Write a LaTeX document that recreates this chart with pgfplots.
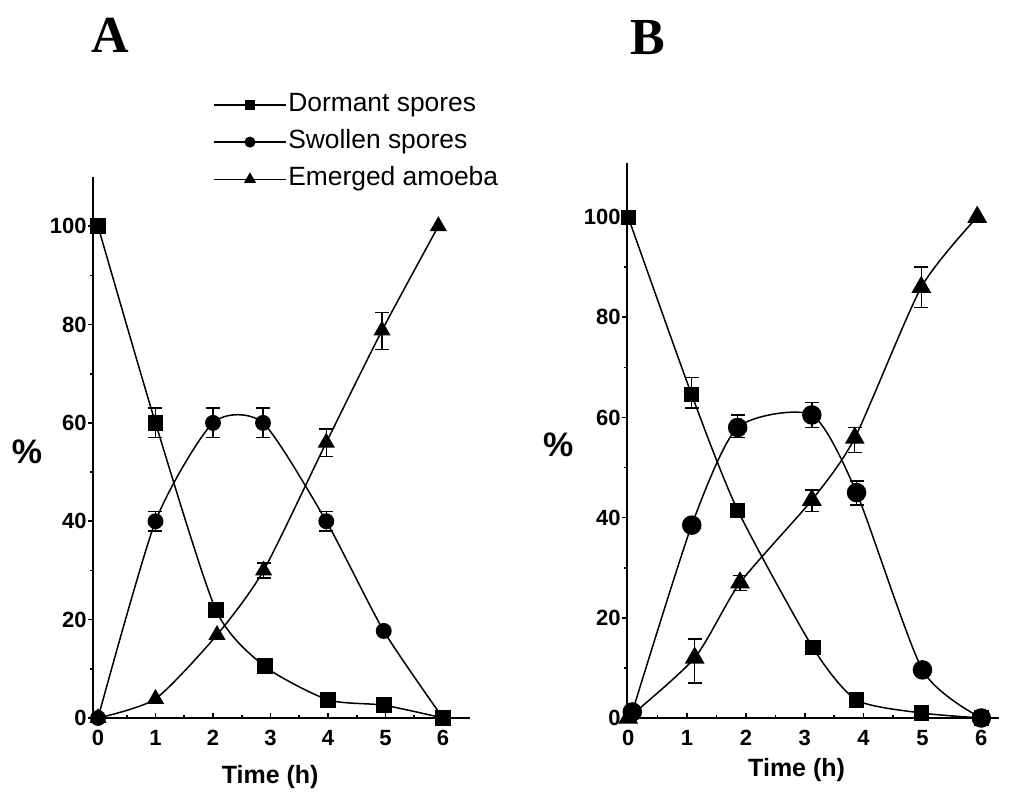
\documentclass[border=0pt]{standalone}
\usepackage{fontspec}
\setmainfont{Liberation Sans}
\newfontfamily\titlefont{Liberation Serif}
\usepackage{pgfplots}
\pgfplotsset{compat=1.18}

\pgfplotsset{
  panel/.style={
    scale only axis, anchor=south west,
    axis lines=left, axis line style={-, line width=1pt},
    ymin=0, ytick={0,20,...,100}, minor y tick num=1,
    xtick={0,...,6}, minor x tick num=1,
    xtick align=inside, ytick align=outside,
    major tick length=2.5pt, minor tick length=1.5pt,
    tick style={black, line width=0.8pt},
    /pgf/number format/assume math mode=true,
    tick label style={font=\bfseries\fontsize{11}{11}\selectfont},
    yticklabel style={inner sep=0.5pt},
    xticklabel style={yshift=-2.5pt},
    clip=false,
    ylabel={\%},
    xlabel={Time (h)},
    label style={font=\bfseries\fontsize{12.5}{12.5}\selectfont},
    every axis plot/.append style={black, line width=0.75pt},
    err/.style={draw=none, forget plot, mark=none,
      error bars/.cd, y dir=both, y explicit,
      error bar style={line width=0.7pt, solid},
      error mark options={rotate=90, mark size=3.5pt, line width=0.7pt}},
  },
}

\begin{document}
\begin{tikzpicture}
\useasboundingbox (0,0) rectangle (509.5pt,398.5pt);
\node[font=\titlefont\bfseries\fontsize{26}{26}\selectfont] at (55pt,381pt) {A};
\node[font=\titlefont\bfseries\fontsize{26}{26}\selectfont] at (324pt,379.5pt) {B};

% panel A
\begin{axis}[panel, at={(46.5pt,39.5pt)}, width=188.5pt, height=270.5pt,
  xmin=-0.087, xmax=6.47, ymax=110,
  ylabel style={rotate=-90, at={(axis description cs:-0.175,0.492)}, anchor=center,
    font=\bfseries\fontsize{17}{17}\selectfont},
  xlabel style={at={(axis description cs:0.47,0)}, anchor=center, yshift=-29.5pt},
  legend style={at={(axis description cs:0.318,1.16)}, anchor=north west,
    draw=none, fill=none, inner sep=0pt, row sep=4.5pt,
    font=\fontsize{13.2}{13.2}\selectfont,
    nodes={inner sep=0.8pt, text height=9.5pt, text depth=3pt}},
  legend cell align=left,
  legend image code/.code={\draw[mark repeat=2,mark phase=2] plot coordinates {(0pt,0pt) (18pt,0pt) (36pt,0pt)};},
]
\addlegendimage{black, line width=0.7pt, mark=square*, mark size=2.2pt}
\addlegendentry{Dormant spores}
\addlegendimage{black, line width=0.7pt, mark=*, mark size=2.4pt}
\addlegendentry{Swollen spores}
\addlegendimage{black, line width=0.7pt, mark=triangle*, mark size=2.8pt}
\addlegendentry{Emerged amoeba}

\addplot[forget plot, smooth, tension=0.4, mark=square*, mark size=3.6pt] coordinates {
  (0,100) (1,60) (2.05,22) (2.9,10.5) (4,3.7) (4.97,2.6) (6,0)};
\addplot[err] coordinates {(1,60) +- (0,3)};

\addplot[forget plot, smooth, tension=0.4, mark=*, mark size=3.6pt] coordinates {
  (0,0) (1,40) (2,60) (2.87,60) (3.97,40) (4.97,17.7) (6,0)};
\addplot[err] coordinates {(1,40) +- (0,2) (2,60) +- (0,3) (2.87,60) +- (0,3) (3.97,40) +- (0,2)};

\addplot[forget plot, smooth, tension=0.4, mark=triangle*, mark size=4.2pt] coordinates {
  (0,0) (1,3.9) (2.07,16.9) (2.88,30) (3.97,56) (4.94,78.8) (5.92,100)};
\addplot[err] coordinates {(2.88,30) +- (0,1.5) (3.97,56) +- (0,2.8) (4.94,78.8) += (0,3.7) -= (0,3.9)};
\end{axis}

% panel B
\begin{axis}[panel, at={(313.5pt,39.5pt)}, width=186pt, height=277.5pt,
  xmin=-0.02, xmax=6.3, ymax=110.8,
  ylabel style={rotate=-90, at={(axis description cs:-0.185,0.492)}, anchor=center,
    font=\bfseries\fontsize{17}{17}\selectfont},
  xlabel style={at={(axis description cs:0.456,0)}, anchor=center, yshift=-26pt},
]
\addplot[smooth, tension=0.4, mark=square*, mark size=3.4pt] coordinates {
  (0,100) (1.08,64.5) (1.86,41.5) (3.14,14) (3.88,3.6) (4.98,1) (6,0)};
\addplot[err] coordinates {(1.08,64.5) += (0,3.5) -= (0,2.6)};

\addplot[smooth, tension=0.4, mark=*, mark size=4.5pt] coordinates {
  (0.07,1.2) (1.08,38.5) (1.86,58) (3.12,60.5) (3.88,45) (5,9.6) (6,0)};
\addplot[err] coordinates {(1.86,58) += (0,2.5) -= (0,2) (3.12,60.5) +- (0,2.5) (3.88,45) += (0,2.3) -= (0,2.5)};

\addplot[smooth, tension=0.4, mark=triangle*, mark size=5pt] coordinates {
  (0,0) (1.13,12) (1.9,27) (3.12,43.5) (3.85,55.9) (4.98,86) (5.93,100)};
\addplot[err] coordinates {(1.13,12) += (0,3.8) -= (0,5) (1.9,27) +- (0,1.5) (3.12,43.5) += (0,2) -= (0,2.3) (3.85,55.9) += (0,2.1) -= (0,2.9) (4.98,86) +- (0,4)};
\end{axis}
\end{tikzpicture}
\end{document}
